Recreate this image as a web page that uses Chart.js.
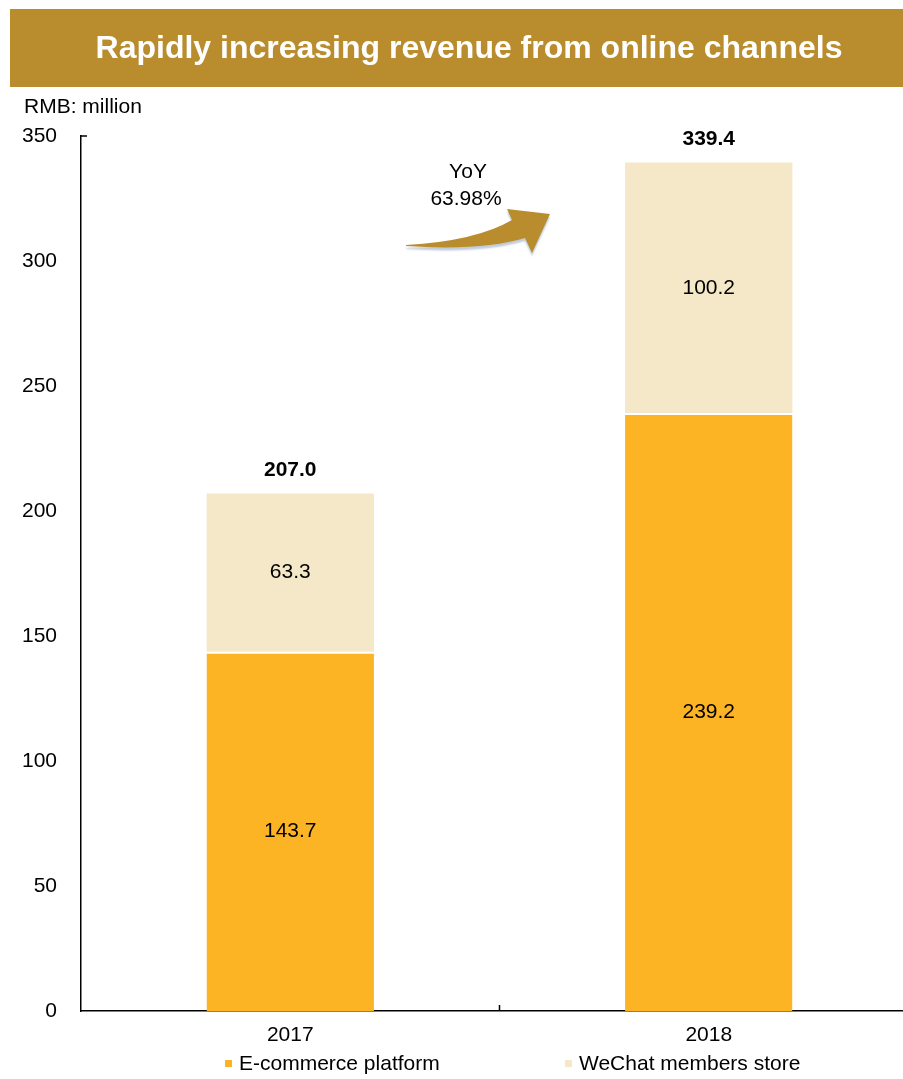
<!DOCTYPE html>
<html>
<head>
<meta charset="utf-8">
<title>Online channel revenue</title>
<script src="https://cdn.jsdelivr.net/npm/chart.js@4.4.1/dist/chart.umd.min.js"></script>
<style>
html, body { margin: 0; padding: 0; background: #fff; overflow: hidden; }
canvas { display: block; }
</style>
</head>
<body>
<canvas id="revenueChart" width="918" height="1079"></canvas>
<script>
// chart values (RMB million)
var years = ['2017', '2018'];
var ecommerce = [143.7, 239.2];
var wechatStore = [63.3, 100.2];
var yTicks = [0, 50, 100, 150, 200, 250, 300, 350];
var seriesNames = ['E-commerce platform', 'WeChat members store'];
var titleText = 'Rapidly increasing revenue from online channels';
var unitText = 'RMB: million';
var yoyText = ['YoY', '63.98%'];

var FONT = "'Liberation Sans', Arial, sans-serif";
var GOLD = '#B98D2D';
var ORANGE = '#FCB424';
var CREAM = '#F5E8C8';

// title bar, unit, growth arrow, value labels and legend
var decorPlugin = {
	id: 'decor',
	afterDraw: function(chart) {
		var ctx = chart.ctx;
		var area = chart.chartArea;
		ctx.save();

		// title bar
		ctx.fillStyle = GOLD;
		ctx.fillRect(10, 9, 908, 78);
		ctx.fillStyle = '#fff';
		ctx.font = 'bold 32px ' + FONT;
		ctx.textAlign = 'center';
		ctx.textBaseline = 'middle';
		ctx.fillText(titleText, 469, 49);

		// unit
		ctx.fillStyle = '#000';
		ctx.font = '21px ' + FONT;
		ctx.textAlign = 'left';
		ctx.fillText(unitText, 24, 107);

		// small tick on top of the y axis
		ctx.strokeStyle = '#000';
		ctx.lineWidth = 1.5;
		ctx.beginPath();
		ctx.moveTo(area.left, area.top);
		ctx.lineTo(area.left + 6, area.top);
		ctx.stroke();

		// tick between the two categories
		var xs = chart.scales.x;
		var mid = (xs.getPixelForValue(0) + xs.getPixelForValue(1)) / 2;
		ctx.beginPath();
		ctx.moveTo(mid, area.bottom);
		ctx.lineTo(mid, area.bottom - 6);
		ctx.stroke();

		// segment values
		ctx.textAlign = 'center';
		ctx.font = '21px ' + FONT;
		chart.data.datasets.forEach(function(ds, d) {
			var meta = chart.getDatasetMeta(d);
			meta.data.forEach(function(bar, i) {
				ctx.fillText(ds.data[i].toFixed(1), bar.x, (bar.y + bar.base) / 2);
			});
		});

		// stack totals
		ctx.font = 'bold 21px ' + FONT;
		var topMeta = chart.getDatasetMeta(1);
		topMeta.data.forEach(function(bar, i) {
			var total = ecommerce[i] + wechatStore[i];
			ctx.fillText(total.toFixed(1), bar.x, bar.y - 23);
		});

		// growth arrow
		ctx.save();
		ctx.shadowColor = 'rgba(140, 160, 190, 0.55)';
		ctx.shadowOffsetY = 3;
		ctx.shadowBlur = 2;
		ctx.fillStyle = GOLD;
		ctx.beginPath();
		ctx.moveTo(406, 245);
		ctx.quadraticCurveTo(476, 241, 512, 220);
		ctx.lineTo(507, 209);
		ctx.lineTo(550, 214);
		ctx.lineTo(532, 253);
		ctx.lineTo(525, 238);
		ctx.quadraticCurveTo(482, 251, 406, 246);
		ctx.closePath();
		ctx.fill();
		ctx.restore();

		ctx.fillStyle = '#000';
		ctx.font = '21px ' + FONT;
		ctx.fillText(yoyText[0], 468, 172);
		ctx.fillText(yoyText[1], 466, 199);

		// legend
		var legendX = [225, 565];
		ctx.textAlign = 'left';
		chart.data.datasets.forEach(function(ds, d) {
			ctx.fillStyle = ds.backgroundColor;
			ctx.fillRect(legendX[d], 1060, 7, 7);
			ctx.fillStyle = '#000';
			ctx.fillText(ds.label, legendX[d] + 14, 1064);
		});

		ctx.restore();
	}
};

const rc = document.getElementById('revenueChart');
var revenueChart = new Chart(rc, {
	type: 'bar',
	data: {
		labels: years,
		datasets: [{
			label: seriesNames[0],
			data: ecommerce,
			backgroundColor: ORANGE,
			borderColor: '#fff',
			borderWidth: { top: 2, right: 0, bottom: 0, left: 0 },
			borderSkipped: 'start'
		}, {
			label: seriesNames[1],
			data: wechatStore,
			backgroundColor: CREAM,
			borderWidth: 0
		}]
	},
	options: {
		responsive: false,
		animation: false,
		devicePixelRatio: 1,
		layout: {
			padding: { top: 136, right: 0, bottom: 0, left: 0 }
		},
		datasets: {
			bar: {
				categoryPercentage: 1,
				barPercentage: 0.4
			}
		},
		scales: {
			x: {
				stacked: true,
				grid: { display: false, drawTicks: false },
				border: { color: '#000', width: 1.5 },
				ticks: {
					color: '#000',
					padding: 12,
					font: { family: FONT, size: 21 }
				},
				afterFit: function(scale) {
					scale.height = 68;
				}
			},
			y: {
				stacked: true,
				min: yTicks[0],
				max: yTicks[yTicks.length - 1],
				grid: { display: false, drawTicks: false },
				border: { color: '#000', width: 1.5 },
				ticks: {
					color: '#000',
					padding: 24,
					font: { family: FONT, size: 21 }
				},
				afterBuildTicks: function(scale) {
					scale.ticks = yTicks.map(function(v) { return { value: v }; });
				},
				afterFit: function(scale) {
					scale.width = 81;
				}
			}
		},
		plugins: {
			legend: { display: false },
			tooltip: { enabled: false }
		}
	},
	plugins: [decorPlugin]
});
</script>
</body>
</html>
